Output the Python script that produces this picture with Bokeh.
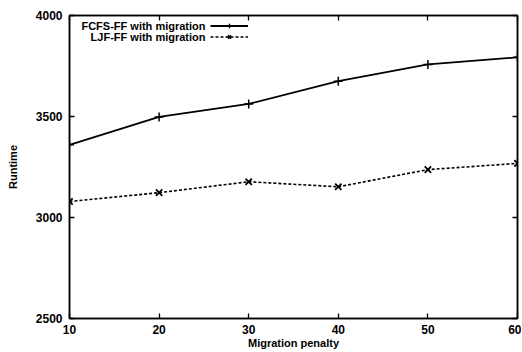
from bokeh.plotting import figure
from bokeh.models import Legend, LegendItem, Label, LinearAxis, FixedTicker, Range1d
from bokeh.embed import file_html
from bokeh.resources import INLINE

# ---- data ----
penalty = [10, 20, 30, 40, 50, 60]
fcfs_ff = [3360, 3498, 3562, 3675, 3758, 3793]
ljf_ff = [3079, 3123, 3177, 3152, 3237, 3268]
x_ticks = [10, 20, 30, 40, 50, 60]
y_ticks = [2500, 3000, 3500, 4000]
series_names = ["FCFS-FF with migration", "LJF-FF with migration"]
x_title = "Migration penalty"
y_title = "Runtime"

FONT = "Liberation Sans"

p = figure(frame_width=448, frame_height=303,
           x_range=Range1d(10, 60), y_range=Range1d(2500, 4000),
           output_backend="svg", toolbar_location=None,
           min_border_left=69, min_border_right=4,
           min_border_top=15, min_border_bottom=32)

p.background_fill_color = "white"
p.border_fill_color = "white"
p.outline_line_color = "black"
p.outline_line_width = 1.5
p.xgrid.visible = False
p.ygrid.visible = False

def style_axis(ax, ticks, show_labels):
    ax.ticker = FixedTicker(ticks=ticks)
    ax.major_tick_in = 5
    ax.major_tick_out = 0
    ax.minor_tick_in = 0
    ax.minor_tick_out = 0
    ax.major_tick_line_color = "black"
    ax.major_tick_line_width = 1.3
    ax.axis_line_color = "black"
    ax.axis_line_width = 1.5
    ax.major_label_text_font = FONT
    ax.major_label_text_font_style = "bold"
    ax.major_label_text_color = "black"
    if show_labels:
        ax.major_label_text_font_size = "12px"
    else:
        ax.major_label_text_font_size = "0px"
        ax.major_label_text_alpha = 0
        ax.major_label_standoff = 0

xa = p.xaxis[0]
ya = p.yaxis[0]
style_axis(xa, x_ticks, True)
style_axis(ya, y_ticks, True)
xa.major_label_standoff = 6
ya.major_label_standoff = 7
xa.axis_label = x_title
ya.axis_label = y_title
for ax in (xa, ya):
    ax.axis_label_text_font = FONT
    ax.axis_label_text_font_style = "bold"
    ax.axis_label_text_font_size = "11px"
    ax.axis_label_text_color = "black"
xa.axis_label_standoff = 0
ya.axis_label_standoff = 14

top = LinearAxis()
right = LinearAxis()
style_axis(top, x_ticks, False)
style_axis(right, y_ticks, False)
p.add_layout(top, "above")
p.add_layout(right, "right")

# ---- series ----
l1 = p.line(penalty, fcfs_ff, line_color="black", line_width=1.8)
s1 = p.scatter(penalty, fcfs_ff, marker="cross", size=9, line_color="black", line_width=1.5)
l2 = p.line(penalty, ljf_ff, line_color="black", line_width=1.6, line_dash="3 2")
s2 = p.scatter(penalty, ljf_ff, marker="x", size=9, line_color="black", line_width=1.8)

legend = Legend(items=[LegendItem(label=" ", renderers=[l1, s1]),
                       LegendItem(label=" ", renderers=[l2, s2])],
                location=(141, 276), orientation="vertical",
                glyph_width=38, glyph_height=11, label_height=11, label_width=0,
                label_standoff=0, spacing=0, padding=0, margin=0,
                label_text_font_size="1px",
                border_line_alpha=0, background_fill_alpha=0)
p.add_layout(legend, "center")

for name, yy in zip(series_names, [293, 281.5]):
    p.add_layout(Label(x=136, y=yy, x_units="screen", y_units="screen",
                       text=name, text_align="right", text_baseline="middle",
                       text_font=FONT, text_font_style="bold",
                       text_font_size="11px", text_color="black"))

open("out.html", "w").write(file_html(p, INLINE))
